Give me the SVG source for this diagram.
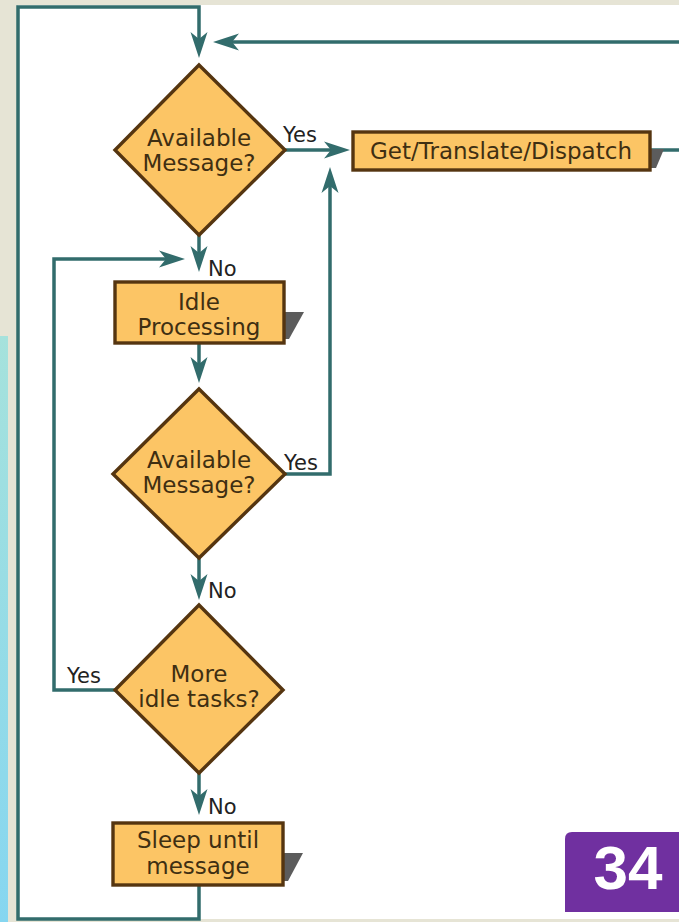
<svg xmlns="http://www.w3.org/2000/svg" width="679" height="922" viewBox="0 0 679 922">
<defs>
<style>
.conn{fill:none;stroke:#326c6c;stroke-width:3.5}
.box{fill:#fcc565;stroke:#553510;stroke-width:3.4}
.shadow{fill:#5c5c5c}
.t{font-family:"DejaVu Sans",Verdana,sans-serif;font-size:23px;fill:#3f2f12;text-anchor:middle}
.lbl{font-family:"DejaVu Sans",Verdana,sans-serif;font-size:21px;fill:#222222}
</style>
<marker id="ah" markerUnits="userSpaceOnUse" markerWidth="28" markerHeight="18" refX="17" refY="9" orient="auto" viewBox="0 0 28 18">
<path d="M26,9 L0,0.5 L7,9 L0,17.5 Z" fill="#326c6c"/>
</marker>
<linearGradient id="cy" x1="0" y1="0" x2="0" y2="1">
<stop offset="0" stop-color="#a6e2dc"/>
<stop offset="1" stop-color="#86d6f0"/>
</linearGradient>
</defs>
<rect x="0" y="0" width="679" height="922" fill="#e6e4d5"/>
<rect x="18" y="5" width="661" height="914" fill="#ffffff"/>
<rect x="0" y="336" width="8" height="586" fill="url(#cy)"/>

<g id="connectors">
<polyline class="conn" points="199,885 199,919 18,919 18,7 199,7 199,49" marker-end="url(#ah)"/>
<polyline class="conn" points="650,150 700,150 700,42 222,42" marker-end="url(#ah)"/>
<line class="conn" x1="285" y1="150" x2="341" y2="150" marker-end="url(#ah)"/>
<line class="conn" x1="199" y1="235" x2="199" y2="263" marker-end="url(#ah)"/>
<polyline class="conn" points="115,690 54,690 54,259 176,259" marker-end="url(#ah)"/>
<line class="conn" x1="199" y1="343" x2="199" y2="374" marker-end="url(#ah)"/>
<polyline class="conn" points="285,474 330,474 330,176" marker-end="url(#ah)"/>
<line class="conn" x1="199" y1="558" x2="199" y2="591" marker-end="url(#ah)"/>
<line class="conn" x1="199" y1="773" x2="199" y2="806" marker-end="url(#ah)"/>
<text class="lbl" x="283" y="142">Yes</text>
<text class="lbl" x="208" y="276">No</text>
<text class="lbl" x="284" y="470">Yes</text>
<text class="lbl" x="208" y="598">No</text>
<text class="lbl" x="67" y="683">Yes</text>
<text class="lbl" x="208" y="814">No</text>
</g>

<g id="d1">
<polygon class="box" points="199,65 285,150 199,235 115,150"/>
<text class="t" x="199" y="146">Available</text>
<text class="t" x="199" y="171">Message?</text>
</g>

<g id="gtd">
<polygon class="shadow" points="650,149 664,149 656,168 650,168"/>
<rect class="box" x="353" y="132" width="297" height="38"/>
<text class="t" x="501" y="159">Get/Translate/Dispatch</text>
</g>

<g id="idle">
<polygon class="shadow" points="284,312 304,312 289,339 284,339"/>
<rect class="box" x="115" y="282" width="169" height="61"/>
<text class="t" x="199" y="310">Idle</text>
<text class="t" x="199" y="335">Processing</text>
</g>

<g id="d2">
<polygon class="box" points="199,389 285,474 199,558 113,474"/>
<text class="t" x="199" y="468">Available</text>
<text class="t" x="199" y="493">Message?</text>
</g>

<g id="d3">
<polygon class="box" points="199,605 283,690 199,773 115,690"/>
<text class="t" x="199" y="682">More</text>
<text class="t" x="199" y="707">idle tasks?</text>
</g>

<g id="sleep">
<polygon class="shadow" points="283,853 303,853 288,881 283,881"/>
<rect class="box" x="113" y="823" width="170" height="62"/>
<text class="t" x="198" y="848">Sleep until</text>
<text class="t" x="198" y="874">message</text>
</g>

<g id="page">
<path d="M572,832 H690 V912 H565 V839 Q565,832 572,832 Z" fill="#7030a0"/>
<text x="628" y="889" font-family="Liberation Sans,Arial,sans-serif" font-weight="bold" font-size="62" fill="#ffffff" text-anchor="middle">34</text>
</g>
</svg>
